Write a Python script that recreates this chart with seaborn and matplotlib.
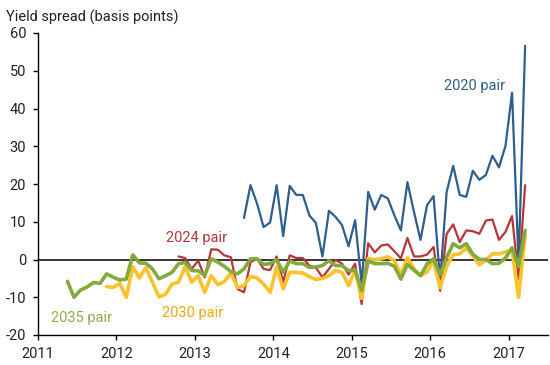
import numpy as np
import pandas as pd
import matplotlib
matplotlib.use("Agg")
import matplotlib.pyplot as plt
import seaborn as sns

# ---- data (monthly, basis points) ----
pair_2020_start = (2013, 8)
pair_2020 = [11.0, 19.7, 14.8, 8.6, 9.8, 19.7, 6.2, 19.5, 17.1, 17.1,
             11.7, 9.7, 0.8, 12.9, 11.3, 9.1, 3.5, 10.4, -6.5, 17.9,
             13.2, 17.1, 16.2, 11.7, 7.7, 20.5, 12.6, 5.2, 14.4, 16.8,
             -5.6, 17.9, 24.8, 17.1, 16.6, 23.5, 21.1, 22.4, 27.5, 24.4,
             30.1, 44.2, -1.1, 56.6]

pair_2024_start = (2012, 10)
pair_2024 = [0.8, 0.4, -2.5, -0.3, -4.7, 2.7, 2.6, 1.1, 0.6, -7.8,
             -8.7, -0.7, 0.2, -2.5, -2.8, 0.8, -6.0, 1.1, 0.4, 0.4,
             -1.6, -2.2, -4.7, -2.5, -0.1, -1.1, -4.0, -1.1, -11.8, 4.3,
             1.9, 3.7, 4.0, 2.2, 0.3, 5.7, 0.8, 0.8, 1.3, 3.3,
             -8.3, 6.8, 9.3, 4.6, 7.7, 7.5, 6.8, 10.3, 10.6, 5.2,
             7.3, 11.5, -5.1, 19.7]

pair_2030_start = (2011, 11)
pair_2030 = [-7.2, -7.4, -6.3, -10.0, -1.9, -4.9, -2.2, -6.0, -9.9, -9.2,
             -6.5, -6.0, -1.9, -6.0, -4.3, -8.7, -4.3, -6.7, -5.8, -3.6,
             -7.4, -6.9, -4.5, -4.9, -6.5, -8.7, -2.0, -7.8, -3.4, -3.4,
             -3.6, -4.5, -5.3, -5.0, -4.3, -2.9, -3.4, -6.9, -2.9, -10.3,
             0.3, -0.1, 0.2, 0.7, -0.3, -4.0, 0.5, -2.5, -4.3, -3.3,
             -0.3, -7.5, -1.8, 1.3, 1.5, 3.0, 1.0, -1.4, -0.2, 1.5,
             1.5, 2.0, 2.6, -10.0, 6.5]

pair_2035_start = (2011, 5)
pair_2035 = [-5.8, -10.0, -8.1, -7.3, -6.1, -6.3, -3.8, -4.7, -5.4, -5.2,
             1.2, -0.9, -1.0, -2.5, -5.1, -4.3, -3.4, -1.1, -0.8, -2.9,
             -3.0, -4.2, 0.2, -0.7, -1.8, -3.2, -3.8, -2.5, 0.2, 0.2,
             -1.3, -1.1, -0.1, -3.4, -0.4, -1.1, -1.1, -2.1, -2.0, -1.6,
             -0.3, -1.6, -1.6, -3.0, -2.8, -8.2, -0.4, -1.1, -1.1, -1.0,
             -1.8, -5.2, -1.3, -2.8, -4.3, -1.2, 0.2, -4.0, 0.5, 4.2,
             3.1, 4.2, 1.4, 0.0, 0.0, -1.1, -1.0, 0.4, 3.1, -1.9,
             7.7]

pair_names = ["2020 pair", "2024 pair", "2030 pair", "2035 pair"]
x_ticks = [2011, 2012, 2013, 2014, 2015, 2016, 2017]
y_ticks = [-20, -10, 0, 10, 20, 30, 40, 50, 60]


def month_positions(start, n):
    y, m = start
    return y + (m - 1 + 0.5 + np.arange(n)) / 12.0


frames = []
for name, start, vals in [("2020 pair", pair_2020_start, pair_2020),
                          ("2024 pair", pair_2024_start, pair_2024),
                          ("2030 pair", pair_2030_start, pair_2030),
                          ("2035 pair", pair_2035_start, pair_2035)]:
    frames.append(pd.DataFrame({"x": month_positions(start, len(vals)),
                                "spread": vals, "pair": name}))
df = pd.concat(frames, ignore_index=True)

# ---- style ----
sns.set_theme(style="ticks")
plt.rcParams["font.family"] = ["Roboto", "DejaVu Sans"]
plt.rcParams["axes.unicode_minus"] = False

line_colors = {"2020 pair": "#2E5F8C", "2024 pair": "#B5363A",
               "2030 pair": "#FBC22C", "2035 pair": "#84A93C"}
text_colors = {"2020 pair": "#2E5F8C", "2024 pair": "#B5363A",
               "2030 pair": "#EBAA12", "2035 pair": "#8CB04A"}
widths = {"2020 pair": 1.6, "2024 pair": 1.6, "2030 pair": 2.6, "2035 pair": 2.6}

fig = plt.figure(figsize=(5.5, 3.65), dpi=100)
ax = fig.add_axes([38 / 550, 30 / 365, 510 / 550, 302 / 365])

ax.axhline(0, color="black", lw=1.1, zorder=1)

for name in pair_names:
    sub = df[df["pair"] == name]
    sns.lineplot(data=sub, x="x", y="spread", ax=ax, color=line_colors[name],
                 linewidth=widths[name], legend=False, zorder=2)

ax.set_xlim(2011, 2017.5)
ax.set_ylim(-20, 60)
ax.set_xticks(x_ticks)
ax.set_xticklabels([str(t) for t in x_ticks])
ax.set_yticks(y_ticks)
ax.set_yticklabels([str(t) for t in y_ticks])
ax.set_xlabel("")
ax.set_ylabel("")
for s in ["top", "right"]:
    ax.spines[s].set_visible(False)
for s in ["left", "bottom"]:
    ax.spines[s].set_color("black")
    ax.spines[s].set_linewidth(1.0)
ax.tick_params(axis="both", direction="out", length=3.6, width=1.0,
               color="black", labelsize=10.5, labelcolor="#222222")
ax.tick_params(axis="y", pad=5)
ax.tick_params(axis="x", pad=5)

# series labels
ax.text(2011.17, -15.4, "2035 pair", color=text_colors["2035 pair"],
        fontsize=10.5, ha="left", va="center")
ax.text(2012.58, -14.2, "2030 pair", color=text_colors["2030 pair"],
        fontsize=10.5, ha="left", va="center")
ax.text(2012.63, 5.7, "2024 pair", color=text_colors["2024 pair"],
        fontsize=10.5, ha="left", va="center")
ax.text(2016.18, 45.9, "2020 pair", color=text_colors["2020 pair"],
        fontsize=10.5, ha="left", va="center")

fig.text(6 / 550, 1 - 17 / 365, "Yield spread (basis points)",
         fontsize=10.5, ha="left", va="center", color="#222222")

fig.savefig("out.png", dpi=100)
